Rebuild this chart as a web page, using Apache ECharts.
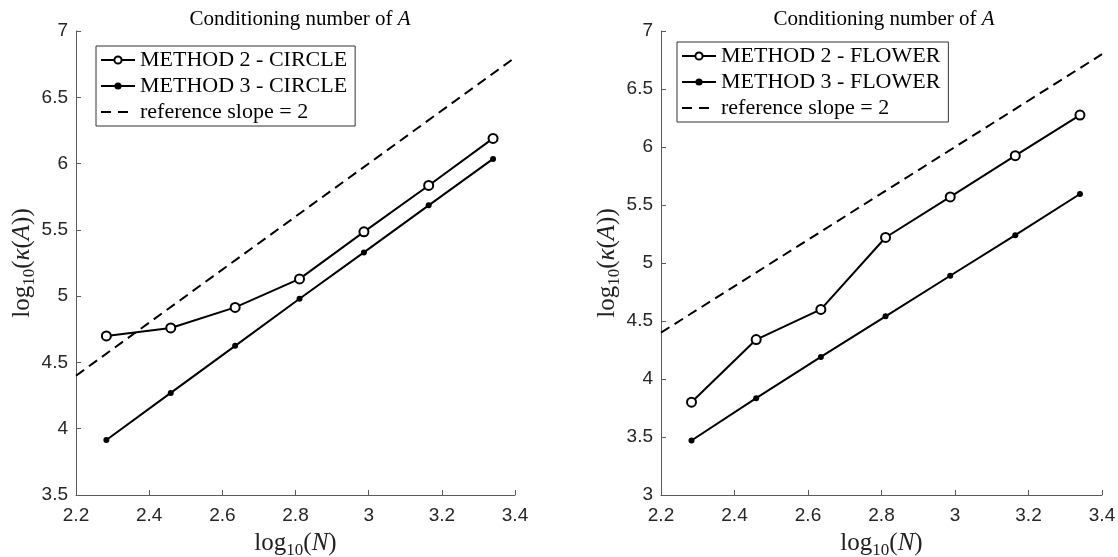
<!DOCTYPE html>
<html>
<head>
    <meta charset="utf-8">
    <title>Conditioning number</title>
    <script src="https://cdn.jsdelivr.net/npm/echarts@6/dist/echarts.min.js"></script>
    <style>
        body { margin: 0; background: #fff; }
        #main { width: 1118px; height: 557px; }
    </style>
</head>
<body>
    <div id="main"></div>
    <script>
        // log10(N)
        var logN = [2.283, 2.459, 2.635, 2.811, 2.987, 3.164, 3.340];

        // circle
        var circleM2 = [4.70, 4.76, 4.915, 5.13, 5.485, 5.835, 6.19];
        var circleM3 = [3.915, 4.27, 4.625, 4.98, 5.33, 5.685, 6.035];

        // flower
        var flowerM2 = [3.80, 4.34, 4.60, 5.22, 5.57, 5.925, 6.275];
        var flowerM3 = [3.47, 3.835, 4.19, 4.54, 4.89, 5.24, 5.595];

        // reference line, slope 2
        var refX = [2.2, 3.4];
        var refY = [4.4, 6.8];

        var xTicks = { min: 2.2, max: 3.4, interval: 0.2 };
        var yTicksLeft = { min: 3.5, max: 7, interval: 0.5 };
        var yTicksRight = { min: 3, max: 7, interval: 0.5 };

        function pairs(xs, ys) {
            return xs.map(function (x, i) { return [x, ys[i]]; });
        }

        var serif = 'Liberation Serif';
        var axisColor = '#5a5a5a';

        var nameRich = {
            n: { fontFamily: serif, fontSize: 25, color: '#222' },
            i: { fontFamily: serif, fontSize: 25, fontStyle: 'italic', color: '#222' },
            s: { fontFamily: serif, fontSize: 17, color: '#222', padding: [14, 0, 0, 0] }
        };

        function xAxisDef(idx) {
            return {
                type: 'value', gridIndex: idx,
                min: xTicks.min, max: xTicks.max, interval: xTicks.interval,
                name: '{n|log}{s|10}{n|(}{i|N}{n|)}',
                nameLocation: 'middle', nameGap: 33,
                nameTextStyle: { rich: nameRich },
                axisLine: { show: true, onZero: false, lineStyle: { color: axisColor, width: 1 } },
                axisTick: { show: true, inside: true, length: 5, lineStyle: { color: axisColor } },
                axisLabel: { fontFamily: 'Liberation Sans', fontSize: 19, color: '#262626', margin: 11 },
                splitLine: { show: false }
            };
        }

        function yAxisDef(idx, t) {
            return {
                type: 'value', gridIndex: idx,
                min: t.min, max: t.max, interval: t.interval,
                name: '{n|log}{s|10}{n|(}{i|κ}{n|(}{i|A}{n|))}',
                nameLocation: 'middle', nameGap: 35, nameRotate: 90,
                nameTextStyle: { rich: nameRich },
                axisLine: { show: true, onZero: false, lineStyle: { color: axisColor, width: 1 } },
                axisTick: { show: true, inside: true, length: 5, lineStyle: { color: axisColor } },
                axisLabel: { fontFamily: 'Liberation Sans', fontSize: 19, color: '#262626', margin: 8 },
                splitLine: { show: false }
            };
        }

        function methodSeries(name, idx, ys, hollow) {
            return {
                name: name, type: 'line', xAxisIndex: idx, yAxisIndex: idx,
                data: pairs(logN, ys),
                symbol: hollow ? 'emptyCircle' : 'circle',
                symbolSize: hollow ? 9 : 6,
                lineStyle: { color: '#000', width: 2 },
                itemStyle: { color: '#000', borderColor: '#000', borderWidth: hollow ? 2 : 0 },
                animation: false
            };
        }

        function refSeries(idx) {
            return {
                name: 'reference slope = 2', type: 'line', xAxisIndex: idx, yAxisIndex: idx,
                data: pairs(refX, refY),
                showSymbol: false, symbol: 'none',
                lineStyle: { color: '#000', width: 2, type: [10, 6] },
                itemStyle: { color: '#000' },
                animation: false
            };
        }

        function titleDef(cx) {
            return {
                text: '{n|Conditioning number of }{i|A}',
                left: cx, top: 4, textAlign: 'center',
                textStyle: {
                    fontWeight: 'normal',
                    rich: {
                        n: { fontFamily: serif, fontSize: 21, fontWeight: 'normal', color: '#000' },
                        i: { fontFamily: serif, fontSize: 21, fontWeight: 'normal', fontStyle: 'italic', color: '#000' }
                    }
                }
            };
        }

        function legendDef(left, top, names) {
            return {
                data: [
                    { name: names[0] },
                    { name: names[1] },
                    { name: names[2], itemStyle: { opacity: 0 }, lineStyle: { type: [10, 7] } }
                ],
                orient: 'vertical', left: left, top: top,
                backgroundColor: '#fff', borderColor: '#333', borderWidth: 1,
                padding: [2, 8, 2, 4], itemGap: 2, itemWidth: 34, itemHeight: 9,
                textStyle: { fontFamily: serif, fontSize: 22, lineHeight: 24, color: '#000', padding: [0, 0, 0, 0] },
                selectedMode: false
            };
        }

        var chart = echarts.init(document.getElementById('main'));
        var option = {
            backgroundColor: '#fff',
            animation: false,
            title: [titleDef(295), titleDef(879)],
            grid: [
                { left: 76, right: 1118 - 515, top: 31, bottom: 557 - 495, outerBoundsMode: 'none', containLabel: false },
                { left: 661, right: 1118 - 1102, top: 31, bottom: 557 - 495, outerBoundsMode: 'none', containLabel: false }
            ],
            legend: [
                legendDef(96, 46, ['METHOD 2 - CIRCLE', 'METHOD 3 - CIRCLE', 'reference slope = 2']),
                legendDef(677, 42, ['METHOD 2 - FLOWER', 'METHOD 3 - FLOWER', 'reference slope = 2'])
            ],
            xAxis: [xAxisDef(0), xAxisDef(1)],
            yAxis: [yAxisDef(0, yTicksLeft), yAxisDef(1, yTicksRight)],
            series: [
                methodSeries('METHOD 2 - CIRCLE', 0, circleM2, true),
                methodSeries('METHOD 3 - CIRCLE', 0, circleM3, false),
                refSeries(0),
                methodSeries('METHOD 2 - FLOWER', 1, flowerM2, true),
                methodSeries('METHOD 3 - FLOWER', 1, flowerM3, false),
                refSeries(1)
            ]
        };
        chart.setOption(option);
    </script>
</body>
</html>
